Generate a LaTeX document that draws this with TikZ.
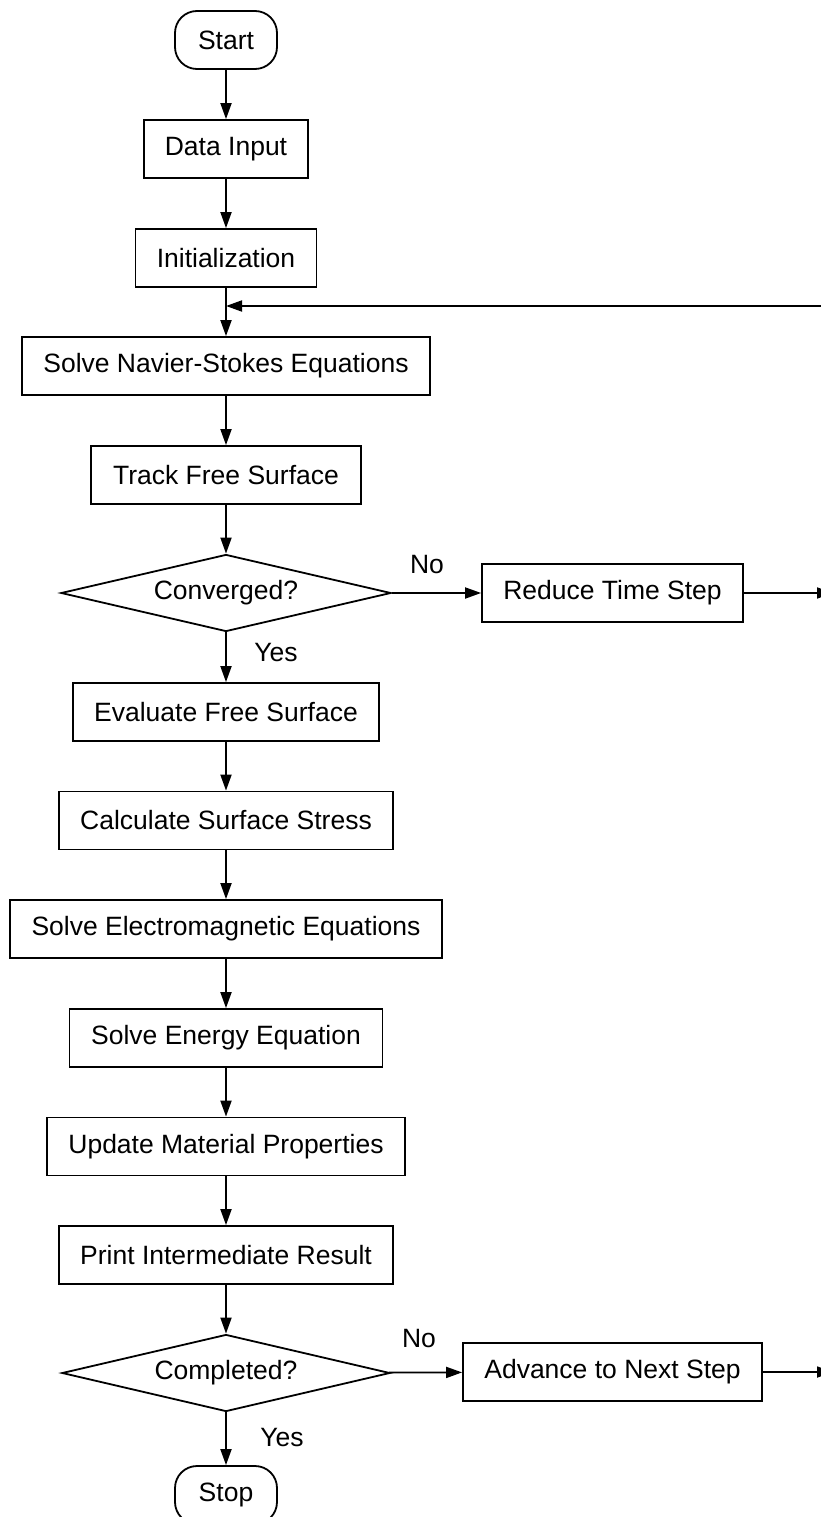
\documentclass[tikz,border=0pt]{standalone}
\usepackage{fontspec}
\setmainfont{Liberation Sans}
\usetikzlibrary{arrows.meta,shapes.geometric}
\begin{document}
\begin{tikzpicture}[x=1pt,y=-1pt,
  every node/.style={font=\fontsize{26.5}{31}\selectfont},
  box/.style={draw, line width=1.8pt, rectangle, minimum height=58pt, inner xsep=20pt, inner ysep=0pt},
  term/.style={draw, line width=1.8pt, rectangle, rounded corners=22pt, minimum height=58pt, minimum width=102pt},
  dec/.style={draw, line width=1.8pt, diamond, aspect=4.29, minimum width=330pt, minimum height=77pt, inner sep=0pt},
  arr/.style={line width=1.8pt, -{Triangle[length=16pt,width=11pt]}}
]
\useasboundingbox (0,0) rectangle (821,1517);
\clip (0,0) rectangle (821,1517);

\node[term] (start) at (226,40) {Start};
\node[box, minimum width=164pt] (data) at (226,149) {Data Input};
\node[box, minimum width=181pt] (init) at (226,258) {Initialization};
\coordinate (loop) at (226,306);
\coordinate (rin) at (840,306);
\node[box, minimum width=408pt] (ns) at (226,366) {Solve Navier-Stokes Equations};
\node[box, minimum width=270pt] (track) at (226,475) {Track Free Surface};
\node[dec] (conv) at (226,593) {Converged?};
\node[box, minimum width=261pt] (reduce) at (612.5,593) {Reduce Time Step};
\coordinate (rout1) at (833,593);
\node (no1) at (427,565) {No};
\node (yes1) at (276,653) {Yes};
\node[box, minimum width=306pt] (eval) at (226,712) {Evaluate Free Surface};
\node[box, minimum width=334pt] (calc) at (226,820.5) {Calculate Surface Stress};
\node[box, minimum width=432pt] (em) at (226,929) {Solve Electromagnetic Equations};
\node[box, minimum width=313pt] (energy) at (226,1038) {Solve Energy Equation};
\node[box, minimum width=358pt] (update) at (226,1146.5) {Update Material Properties};
\node[box, minimum width=334pt] (print) at (226,1255) {Print Intermediate Result};
\node[dec, minimum width=328pt] (comp) at (226,1373) {Completed?};
\node[box, minimum width=299pt] (adv) at (612.5,1372) {Advance to Next Step};
\coordinate (rout2) at (833,1372);
\node (no2) at (419,1338) {No};
\node (yes2) at (282,1437) {Yes};
\node[term] (stop) at (226,1495) {Stop};

\draw[arr] (start) -- (data);
\draw[arr] (data) -- (init);
\draw[arr] (init) -- (ns);
\draw[arr] (rin) -- (loop);
\draw[arr] (ns) -- (track);
\draw[arr] (track) -- (conv);
\draw[arr] (conv) -- (reduce);
\draw[arr] (reduce) -- (rout1);
\draw[arr] (conv) -- (eval);
\draw[arr] (eval) -- (calc);
\draw[arr] (calc) -- (em);
\draw[arr] (em) -- (energy);
\draw[arr] (energy) -- (update);
\draw[arr] (update) -- (print);
\draw[arr] (print) -- (comp);
\draw[arr] (comp) -- (adv);
\draw[arr] (adv) -- (rout2);
\draw[arr] (comp) -- (stop);
\end{tikzpicture}
\end{document}
